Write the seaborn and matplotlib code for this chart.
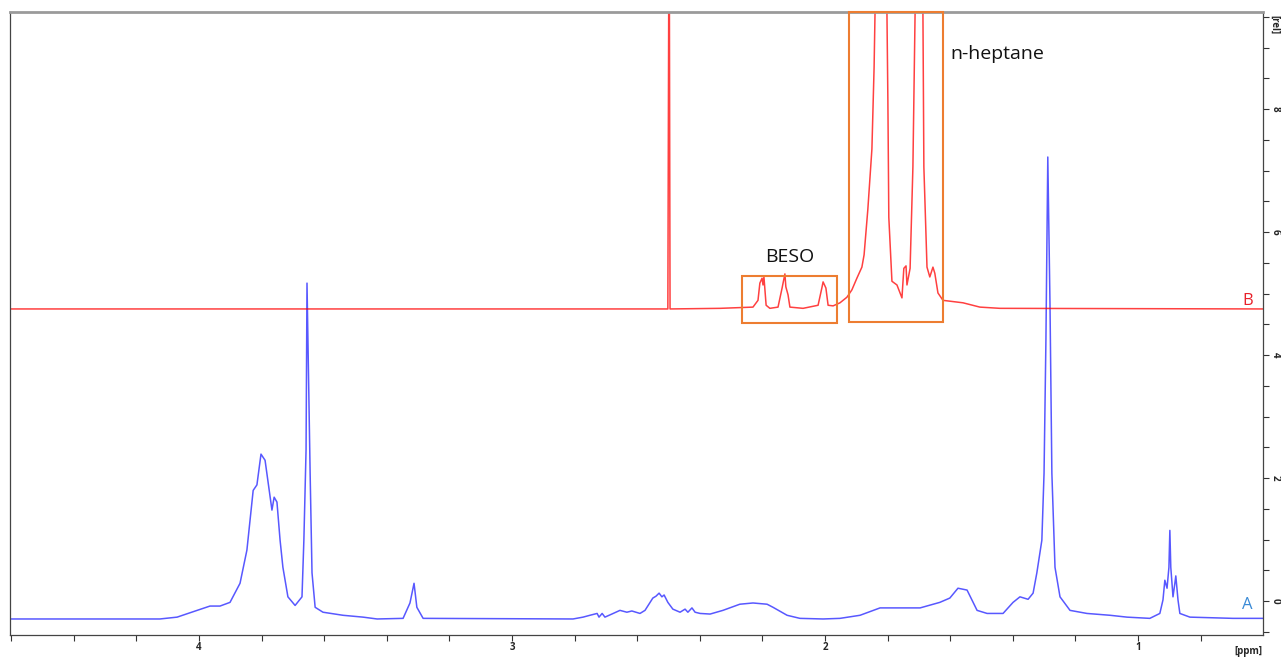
import numpy as np
import pandas as pd
import seaborn as sns
import matplotlib.pyplot as plt
from matplotlib.patches import Rectangle
from matplotlib.ticker import MultipleLocator

# spectrum A (blue): chemical shift [ppm] and intensity [rel]
a_ppm = [4.604, 4.125, 4.070, 4.006, 3.965, 3.933, 3.901, 3.869, 3.847, 3.827,
         3.815, 3.802, 3.789, 3.767, 3.760, 3.751, 3.741, 3.732, 3.716, 3.693,
         3.671, 3.665, 3.658, 3.655, 3.645, 3.639, 3.629, 3.604, 3.540, 3.476,
         3.431, 3.348, 3.326, 3.313, 3.304, 3.284, 2.805, 2.773, 2.751, 2.728,
         2.722, 2.712, 2.703, 2.681, 2.655, 2.633, 2.617, 2.591, 2.575, 2.550,
         2.540, 2.530, 2.521, 2.514, 2.502, 2.486, 2.463, 2.447, 2.438, 2.425,
         2.415, 2.399, 2.367, 2.326, 2.272, 2.230, 2.185, 2.166, 2.121, 2.080,
         2.006, 1.952, 1.888, 1.824, 1.802, 1.696, 1.633, 1.601, 1.575, 1.546,
         1.514, 1.482, 1.431, 1.399, 1.377, 1.351, 1.335, 1.323, 1.307, 1.300,
         1.294, 1.288, 1.281, 1.275, 1.265, 1.249, 1.217, 1.163, 1.089, 1.035,
         0.962, 0.930, 0.920, 0.914, 0.907, 0.901, 0.898, 0.895, 0.888, 0.882,
         0.879, 0.872, 0.866, 0.834, 0.696, 0.601]
a_int = [-0.29, -0.29, -0.26, -0.15, -0.08, -0.08, -0.02, 0.29, 0.83, 1.80,
         1.89, 2.39, 2.29, 1.48, 1.69, 1.61, 0.99, 0.55, 0.07, -0.07,
         0.07, 0.99, 2.46, 5.17, 2.08, 0.46, -0.10, -0.18, -0.23, -0.26,
         -0.29, -0.28, -0.03, 0.29, -0.10, -0.28, -0.29, -0.26, -0.23, -0.20,
         -0.26, -0.20, -0.26, -0.21, -0.15, -0.18, -0.16, -0.20, -0.15, 0.05,
         0.08, 0.13, 0.07, 0.10, -0.02, -0.13, -0.18, -0.13, -0.18, -0.11,
         -0.18, -0.20, -0.21, -0.15, -0.05, -0.03, -0.05, -0.10, -0.23, -0.28,
         -0.29, -0.28, -0.23, -0.11, -0.11, -0.11, -0.02, 0.05, 0.21, 0.18,
         -0.15, -0.20, -0.20, -0.02, 0.07, 0.03, 0.13, 0.46, 0.99, 2.08,
         4.24, 7.22, 4.83, 2.08, 0.55, 0.07, -0.15, -0.20, -0.23, -0.26,
         -0.28, -0.20, 0.02, 0.34, 0.21, 0.55, 1.15, 0.55, 0.07, 0.29,
         0.41, 0.02, -0.20, -0.26, -0.28, -0.28]

# spectrum B (red), offset upwards; the tallest peaks run off the top of the plot
b_ppm = [4.604, 2.502, 2.498, 2.495, 2.335, 2.230, 2.214, 2.208, 2.201, 2.198,
         2.195, 2.188, 2.176, 2.150, 2.137, 2.128, 2.125, 2.118, 2.112, 2.070,
         2.022, 2.010, 2.006, 1.997, 1.990, 1.974, 1.952, 1.930, 1.914, 1.898,
         1.882, 1.875, 1.863, 1.850, 1.843, 1.840, 1.821, 1.802, 1.799, 1.796,
         1.786, 1.770, 1.754, 1.748, 1.741, 1.738, 1.728, 1.719, 1.712, 1.700,
         1.687, 1.684, 1.674, 1.665, 1.655, 1.649, 1.639, 1.623, 1.559, 1.505,
         1.441, 0.601]
b_int = [4.75, 4.75, 12.0, 4.75, 4.76, 4.78, 4.89, 5.17, 5.25, 5.14,
         5.27, 4.81, 4.76, 4.78, 5.09, 5.32, 5.11, 4.98, 4.78, 4.76,
         4.81, 5.09, 5.19, 5.09, 4.81, 4.80, 4.85, 4.94, 5.06, 5.25,
         5.43, 5.63, 6.37, 7.35, 8.68, 9.58, 12.0, 9.58, 8.15, 6.24,
         5.20, 5.14, 4.93, 5.41, 5.45, 5.14, 5.41, 7.06, 9.58, 12.0,
         9.58, 7.06, 5.43, 5.27, 5.43, 5.33, 5.01, 4.89, 4.85, 4.78,
         4.76, 4.75]

spec_a = pd.DataFrame({"ppm": a_ppm, "rel": a_int})
spec_b = pd.DataFrame({"ppm": b_ppm, "rel": b_int})

sns.set_style("white")
plt.rcParams["font.family"] = ["Open Sans", "DejaVu Sans"]

fig = plt.figure(figsize=(12.81, 6.58), dpi=100)
ax = fig.add_axes([0.0078, 0.035, 0.978, 0.947])

sns.lineplot(data=spec_a, x="ppm", y="rel", color="#2020ff", alpha=0.75,
             lw=1.1, sort=False, estimator=None, ax=ax)
sns.lineplot(data=spec_b, x="ppm", y="rel", color="#ff0000", alpha=0.75,
             lw=1.1, sort=False, estimator=None, ax=ax)

ax.set_xlim(4.604, 0.601)
ax.set_ylim(-0.55, 9.58)

# orange boxes around BESO and n-heptane signals
orange = "#ed7d31"
ax.add_patch(Rectangle((1.962, 4.52), 0.303, 0.76, fill=False,
                       ec=orange, lw=1.5, zorder=3))
ax.add_patch(Rectangle((1.623, 4.54), 0.300, 5.04, fill=False,
                       ec=orange, lw=1.5, zorder=3, clip_on=False))
ax.text(2.112, 5.59, "BESO", fontsize=14, ha="center", va="center", color="#111111")
ax.text(1.60, 8.89, "n-heptane", fontsize=14, ha="left", va="center", color="#111111")
ax.text(0.650, 4.75, "B", fontsize=12, ha="center", va="bottom", color="#e8202a")
ax.text(0.650, -0.2, "A", fontsize=12, ha="center", va="bottom", color="#3a8ad6")

# axes styling, in the look of an NMR viewer
ax.set_xlabel("")
ax.set_ylabel("")
ax.xaxis.set_major_locator(MultipleLocator(1))
ax.xaxis.set_minor_locator(MultipleLocator(0.2))
ax.yaxis.set_major_locator(MultipleLocator(2))
ax.yaxis.set_minor_locator(MultipleLocator(0.5))
ax.yaxis.tick_right()
ax.tick_params(axis="both", which="both", direction="out", length=4,
               width=0.8, color="#333333")
ax.tick_params(axis="x", which="both", bottom=True, labelsize=7, pad=1)
ax.tick_params(axis="y", which="both", right=True, left=False, labelsize=7, pad=1)
for lab in ax.get_xticklabels():
    lab.set_fontweight("bold")
for lab in ax.get_yticklabels():
    lab.set_fontweight("bold")
    lab.set_rotation(-90)
    lab.set_va("center")
    lab.set_ha("left")

for side in ["left", "bottom", "right"]:
    ax.spines[side].set_color("#444444")
    ax.spines[side].set_linewidth(0.9)
ax.spines["top"].set_color("#9a9a9a")
ax.spines["top"].set_linewidth(2)

ax.text(1.0, -0.027, "[ppm]", transform=ax.transAxes, fontsize=7,
        fontweight="bold", ha="right", va="center")
ax.text(1.0088, 0.995, "[rel]", transform=ax.transAxes, fontsize=7,
        fontweight="bold", ha="center", va="top", rotation=-90)

fig.savefig("out.png", dpi=100)
